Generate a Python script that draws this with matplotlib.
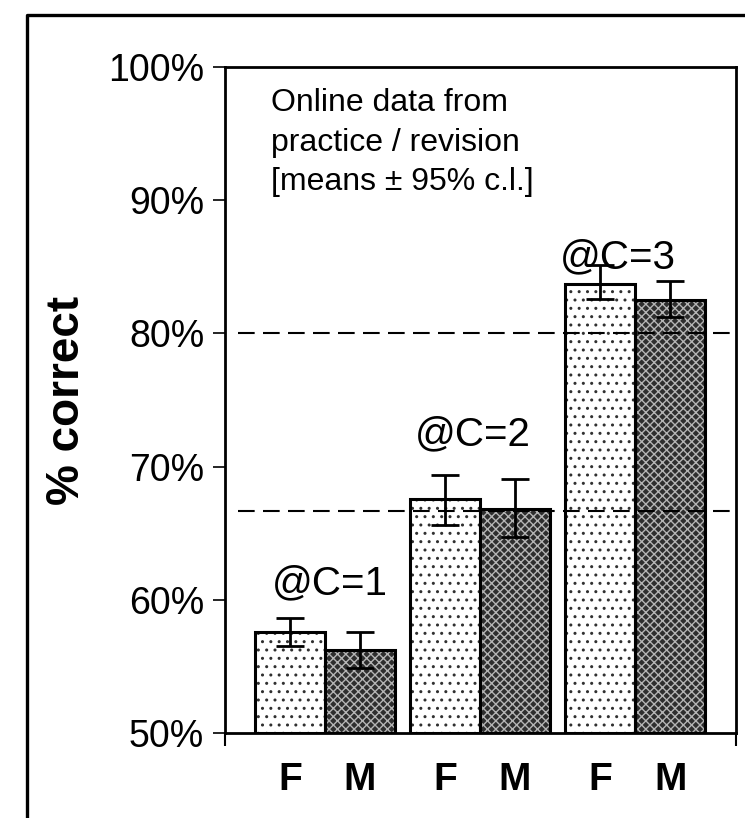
import matplotlib.pyplot as plt
import numpy as np
from matplotlib.lines import Line2D

plt.rcParams['font.family'] = ['Liberation Sans', 'DejaVu Sans']

# data
groups = ['@C=1', '@C=2', '@C=3']
f_mean = [57.6, 67.6, 83.7]
f_lo = [56.5, 65.6, 82.6]
f_hi = [58.6, 69.4, 85.1]
m_mean = [56.2, 66.8, 82.5]
m_lo = [54.9, 64.7, 81.2]
m_hi = [57.6, 69.1, 83.9]
chance = [80.0, 66.7]
tick_vals = [50, 60, 70, 80, 90, 100]
group_label_x = [0.03, 0.95, 1.89]
group_label_y = [61.2, 72.4, 85.7]
note = 'Online data from\npractice / revision\n[means \u00b1 95% c.l.]'

fig = plt.figure(figsize=(7.45, 8.18), dpi=100)
ax = fig.add_axes([0.302, 0.1039, 0.686, 0.8142])

x = np.arange(len(groups))
w = 0.45
xf = x - w / 2
xm = x + w / 2

# fills with hatching (hatch colour comes from edgecolor)
ax.bar(xf, np.array(f_mean) - 50, w, bottom=50, color='white',
       edgecolor='#303030', hatch='..', linewidth=0, zorder=2)
ax.bar(xm, np.array(m_mean) - 50, w, bottom=50, color='#2e2e2e',
       edgecolor='#b4b4b4', hatch='xxxx', linewidth=0, zorder=2)
# outlines
ax.bar(xf, np.array(f_mean) - 50, w, bottom=50, fill=False,
       edgecolor='black', linewidth=2.2, zorder=3)
ax.bar(xm, np.array(m_mean) - 50, w, bottom=50, fill=False,
       edgecolor='black', linewidth=2.2, zorder=3)

f_err = [np.array(f_mean) - np.array(f_lo), np.array(f_hi) - np.array(f_mean)]
m_err = [np.array(m_mean) - np.array(m_lo), np.array(m_hi) - np.array(m_mean)]
ax.errorbar(xf, f_mean, yerr=f_err, fmt='none', ecolor='black',
            elinewidth=2, capsize=10, capthick=2, zorder=5)
ax.errorbar(xm, m_mean, yerr=m_err, fmt='none', ecolor='black',
            elinewidth=2, capsize=10, capthick=2, zorder=5)

for c in chance:
    ax.axhline(c, xmin=0.025, xmax=1, color='black', linewidth=1.5,
               dashes=(8, 4), zorder=4)

for lx, ly, lab in zip(group_label_x, group_label_y, groups):
    ax.text(lx, ly, lab, ha='center', va='center', fontsize=29)

ax.text(0.09, 0.968, note, transform=ax.transAxes, ha='left', va='top',
        fontsize=23, linespacing=1.4)

ax.set_xlim(-0.645, 2.65)
ax.set_ylim(50, 100)
ax.set_yticks(tick_vals)
ax.set_yticklabels([f'{v}%' for v in tick_vals], fontsize=27)
ax.tick_params(axis='y', length=9, width=1.2, pad=6, direction='out')
ax.set_xticks([-0.645, 2.65])
ax.set_xticklabels(['', ''])
ax.tick_params(axis='x', length=9, width=1.5, direction='out')
for s in ax.spines.values():
    s.set_linewidth(2)

for xx, lab in zip(np.concatenate([xf, xm]), ['F'] * 3 + ['M'] * 3):
    ax.text(xx, -0.07, lab, transform=ax.get_xaxis_transform(), ha='center',
            va='center', fontsize=28, fontweight='bold')

ax.set_ylabel('% correct', fontsize=33, fontweight='bold', labelpad=14)

# outer chart border (runs off the right and bottom edges)
fig.add_artist(Line2D([0.036, 0.036, 1.2], [-0.2, 0.9817, 0.9817],
                      transform=fig.transFigure, color='black', linewidth=2.4))

fig.savefig('out.png', dpi=100)
